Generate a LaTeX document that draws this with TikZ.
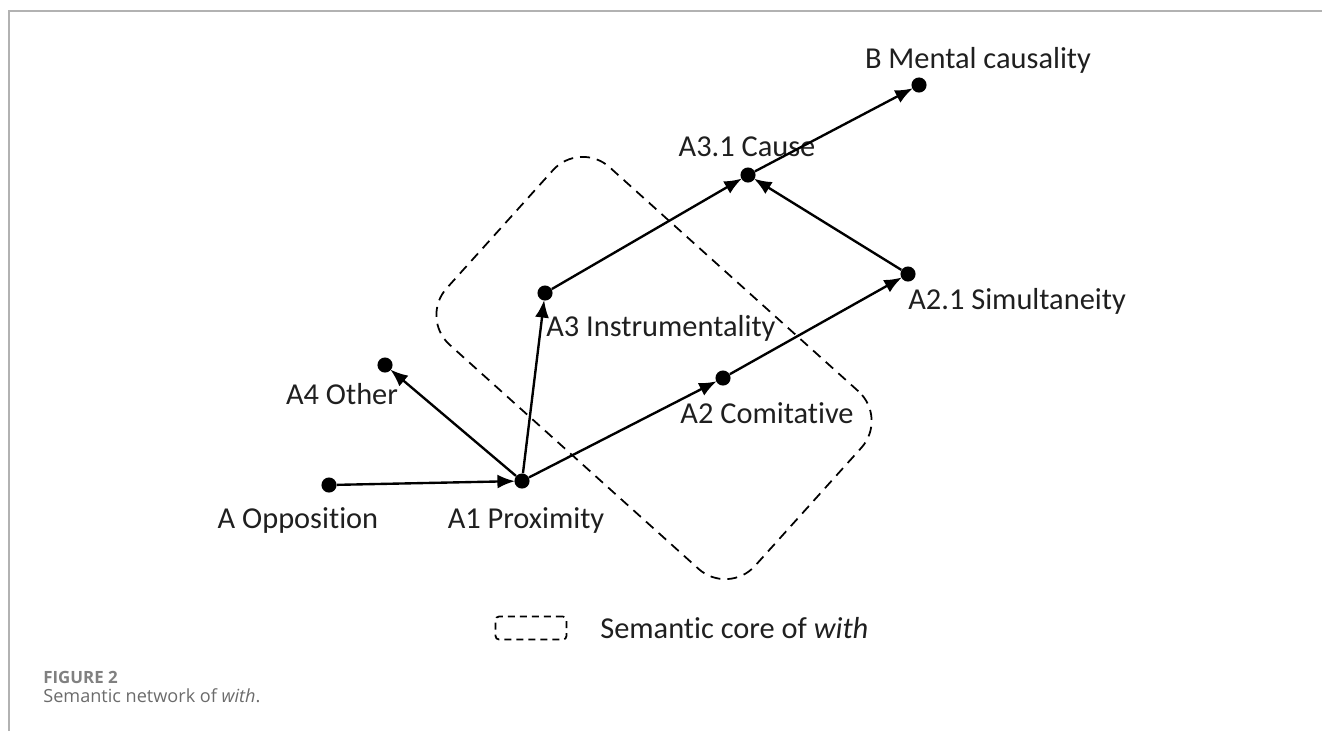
\documentclass[tikz,border=0pt]{standalone}
\usepackage{fontspec}
\setmainfont{Carlito}[Ligatures={NoCommon,NoRequired,NoContextual}]
\newfontfamily\capfont{Open Sans}
\usetikzlibrary{arrows.meta}

\begin{document}
\begin{tikzpicture}[x=0.02cm, y=-0.02cm,
    dot/.style={circle, fill=black, inner sep=0pt, minimum size=8.6pt},
    lbl/.style={font=\fontsize{17.3}{20}\selectfont, text=black!88, inner sep=0pt},
    arr/.style={-{Latex[length=10pt,width=8pt]}, line width=1.35pt, shorten >=-0.5pt},
    core/.style={draw, line width=1pt, dash pattern=on 0.2cm off 0.14cm, rounded corners=0.8cm}
  ]
  \useasboundingbox (0,0) rectangle (1322,731);
  % frame
  \draw[black!30, line width=1.1pt] (9,731) -- (9,11) -- (1322,11);

  % semantic core
  \node[core, minimum width=8.3cm, minimum height=4.78cm, rotate=-42] (core) at (654,368) {};

  % points
  \node[dot] (opp)  at (329,485) {};
  \node[dot] (prox) at (522,481) {};
  \node[dot] (oth)  at (385,365) {};
  \node[dot] (ins)  at (545,293) {};
  \node[dot] (com)  at (723,378) {};
  \node[dot] (sim)  at (908,274) {};
  \node[dot] (cau)  at (748,175) {};
  \node[dot] (men)  at (919,85)  {};

  % labels
  \node[lbl] (lopp)  at (298,520)  {A Opposition};
  \node[lbl] (lprox) at (526,520)  {A1 Proximity};
  \node[lbl] (loth)  at (342,394)  {A4 Other};
  \node[lbl, anchor=west] (lins) at (546,328) {A3 Instrumentality};
  \node[lbl] (lcom)  at (767,413)  {A2 Comitative};
  \node[lbl, anchor=west] (lsim) at (908,301) {A2.1 Simultaneity};
  \node[lbl] (lcau)  at (747,147)  {A3.1 Cause};
  \node[lbl] (lmen)  at (978,60)   {B Mental causality};

  \path[arr]
  (opp) edge (prox)
  (prox) edge (oth)
  (prox) edge (ins)
  (prox) edge (com)
  (com) edge (sim)
  (ins) edge (cau)
  (sim) edge (cau)
  (cau) edge (men)
  ;

  % key
  \node[draw, line width=1pt, dash pattern=on 0.14cm off 0.1cm, rounded corners=2pt,
    minimum width=1.42cm, minimum height=0.46cm] (key) at (531,628) {};
  \node[lbl, anchor=west] (lkey) at (600,628) {Semantic core of \textit{with}};

  % caption
  \node[font=\capfont\bfseries\fontsize{9.6}{11}\selectfont, text=black!50, anchor=west, inner sep=0pt]
    (fig) at (43,677) {FIGURE 2};
  \node[font=\capfont\fontsize{10.3}{12}\selectfont, text=black!58, anchor=west, inner sep=0pt]
    (cap) at (43,696) {Semantic network of \textit{with}.};
\end{tikzpicture}
\end{document}
